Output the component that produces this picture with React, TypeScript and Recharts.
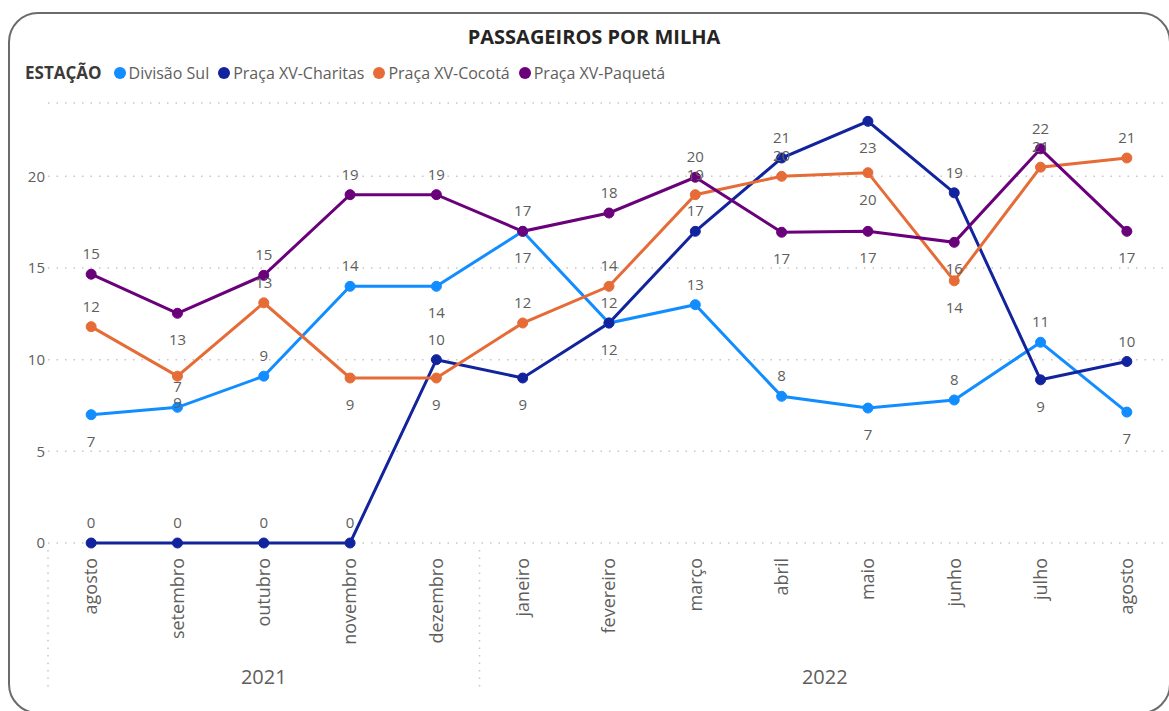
import React from "react";
import { LineChart, Line, XAxis, YAxis, CartesianGrid, LabelList } from "recharts";

const months = ["agosto", "setembro", "outubro", "novembro", "dezembro", "janeiro", "fevereiro", "março", "abril", "maio", "junho", "julho", "agosto"];
const yearLabels = ["2021", "2022"];
const yTicks = [0, 5, 10, 15, 20];

const divisaoSul = [7.0, 7.4, 9.1, 14, 14, 17, 12, 13, 8, 7.36, 7.8, 10.95, 7.14];
const charitas = [0, 0, 0, 0, 10, 9, 12, 17, 21, 23, 19.1, 8.9, 9.9];
const cocota = [11.8, 9.1, 13.1, 9, 9, 12, 14, 19, 20, 20.2, 14.3, 20.5, 21];
const paqueta = [14.66, 12.53, 14.6, 19, 19, 17, 18, 19.95, 16.95, 17, 16.4, 21.5, 17];

// label placement: a = above, b = below
const divisaoPos = ["b", "a", "a", "a", "b", "b", "a", "a", "a", "b", "a", "a", "b"];
const charitasPos = ["a", "a", "a", "a", "a", "b", "b", "a", "a", "b", "a", "b", "a"];
const cocotaPos = ["a", "b", "a", "b", "b", "a", "a", "a", "a", "b", "b", "a", "a"];
const paquetaPos = ["a", "b", "a", "a", "a", "a", "a", "a", "b", "b", "b", "a", "b"];

const seriesDefs = [
  { key: "divisao", name: "Divisão Sul", color: "#118DFF", values: divisaoSul, pos: divisaoPos },
  { key: "charitas", name: "Praça XV-Charitas", color: "#12239E", values: charitas, pos: charitasPos },
  { key: "cocota", name: "Praça XV-Cocotá", color: "#E66C37", values: cocota, pos: cocotaPos },
  { key: "paqueta", name: "Praça XV-Paquetá", color: "#6B007B", values: paqueta, pos: paquetaPos },
];

const data = months.map((m, i) => {
  const row: any = { x: i, month: m };
  seriesDefs.forEach((s) => (row[s.key] = s.values[i]));
  return row;
});

const FONT = "'Open Sans', 'Noto Sans', sans-serif";
const GREY = "#605E5C";

const makeLabel = (pos: string[]) => (props: any) => {
  const { x, y, value, index } = props;
  const above = pos[index] === "a";
  return (
    <text
      x={x}
      y={above ? y - 21 : y + 26}
      textAnchor="middle"
      dominantBaseline="central"
      fontFamily={FONT}
      fontSize={15}
      fill={GREY}
    >
      {Math.round(value)}
    </text>
  );
};

const MonthTick = (props: any) => {
  const { x, y, payload } = props;
  return (
    <g transform={`translate(${x},${y + 7})`}>
      <text transform="rotate(-90)" textAnchor="end" dy="0.35em" fontFamily={FONT} fontSize={18} fill={GREY}>
        {months[payload.value]}
      </text>
    </g>
  );
};

const yearTickValues = [-0.5, 2, 4.5, 8.5, 12.5];
const YearTick = (props: any) => {
  const { x, y, payload } = props;
  const v = payload.value;
  if (v === 2 || v === 8.5) {
    return (
      <text x={x} y={y + 25} textAnchor="middle" dominantBaseline="central" fontFamily={FONT} fontSize={20} fill={GREY}>
        {yearLabels[v === 2 ? 0 : 1]}
      </text>
    );
  }
  return <line x1={x} x2={x} y1={y - 101} y2={y + 41} stroke="#C8C6C4" strokeWidth={1.5} strokeDasharray="1.5 6" />;
};

export default function App() {
  return (
    <div style={{ position: "absolute", left: 0, top: 0, width: 1169, height: 711, overflow: "hidden", background: "#fff" }}>
      <div
        style={{
          position: "absolute",
          left: 8,
          top: 12,
          width: 1159,
          height: 698,
          border: "2px solid #6b6b6b",
          borderRadius: 30,
        }}
      />
      <div
        style={{
          position: "absolute",
          left: 0,
          width: 1188,
          top: 23,
          textAlign: "center",
          fontFamily: FONT,
          fontWeight: 700,
          fontSize: 20,
          color: "#252423",
        }}
      >
        PASSAGEIROS POR MILHA
      </div>
      <div
        style={{
          position: "absolute",
          left: 25,
          top: 61,
          display: "flex",
          alignItems: "center",
          fontFamily: FONT,
          fontSize: 16,
          color: GREY,
          whiteSpace: "nowrap",
        }}
      >
        <span style={{ fontWeight: 700, fontSize: 17, color: "#3b3a39", marginRight: 12 }}>ESTAÇÃO</span>
        {seriesDefs.map((s) => (
          <span key={s.key} style={{ display: "flex", alignItems: "center", marginRight: 9 }}>
            <span
              style={{ width: 12, height: 12, borderRadius: 6, background: s.color, display: "inline-block", marginRight: 3 }}
            />
            {s.name}
          </span>
        ))}
      </div>
      <div style={{ position: "absolute", left: 0, top: 0 }}>
        <LineChart width={1170} height={711} data={data} margin={{ top: 103, right: 0, left: 0, bottom: 18 }}>
          <CartesianGrid horizontal vertical={false} stroke="#C8C6C4" strokeDasharray="1.5 7" strokeWidth={1.5} />
          <YAxis
            type="number"
            domain={[0, 24]}
            ticks={yTicks}
            width={48}
            axisLine={false}
            tickLine={false}
            tickSize={0}
            tickMargin={3}
            tick={{ fontFamily: FONT, fontSize: 15, fill: GREY }}
          />
          <XAxis
            dataKey="x"
            type="number"
            domain={[-0.5, 12.5]}
            ticks={months.map((_, i) => i)}
            interval={0}
            height={100}
            axisLine={false}
            tickLine={false}
            tick={<MonthTick />}
          />
          <XAxis
            xAxisId="yr"
            dataKey="x"
            type="number"
            domain={[-0.5, 12.5]}
            ticks={yearTickValues}
            interval={0}
            height={50}
            axisLine={false}
            tickLine={false}
            tick={<YearTick />}
          />
          {seriesDefs.map((s) => (
            <Line
              key={s.key}
              dataKey={s.key}
              name={s.name}
              stroke={s.color}
              strokeWidth={3}
              dot={{ r: 5, fill: s.color, stroke: s.color, strokeWidth: 1 }}
              activeDot={false}
              isAnimationActive={false}
            >
              <LabelList dataKey={s.key} content={makeLabel(s.pos)} />
            </Line>
          ))}
        </LineChart>
      </div>
    </div>
  );
}
